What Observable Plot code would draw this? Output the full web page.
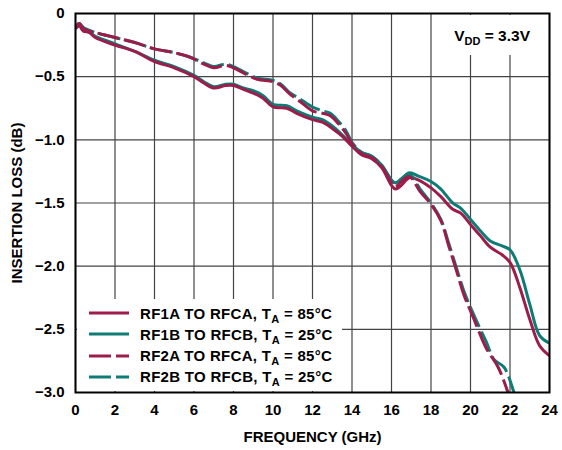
<!DOCTYPE html>
<html>
<head>
<meta charset="utf-8">
<script src="https://cdn.jsdelivr.net/npm/d3@7"></script>
<script src="https://cdn.jsdelivr.net/npm/@observablehq/plot@0.6"></script>
<style>
  html, body { margin: 0; padding: 0; background: #fff; }
  #wrap { position: relative; width: 562px; height: 450px; font-family: "Liberation Sans", Arial, sans-serif; font-weight: bold; color: #000; }
  #legend { position: absolute; left: 77px; top: 299px; width: 265px; height: 92px; background: #fff; }
  .row { position: absolute; left: 0; height: 20px; display: flex; align-items: center; font-size: 15px; white-space: nowrap; letter-spacing: 0.3px; }
  .row svg { margin-left: 12px; margin-right: 11px; }
  sub { font-size: 11px; vertical-align: -4px; line-height: 0; }
  #vdd { position: absolute; left: 445px; top: 15px; width: 102px; height: 40px; background: #fff; font-size: 15.5px; }
  #vdd span.t { position: absolute; right: 17px; top: 12px; white-space: nowrap; }
</style>
</head>
<body>
<div id="wrap"></div>
<script>
// ---- data ----
const xTicks = [0, 2, 4, 6, 8, 10, 12, 14, 16, 18, 20, 22, 24];
const yTicks = [0, -0.5, -1.0, -1.5, -2.0, -2.5, -3.0];

const seriesNames = ["RF1A TO RFCA", "RF1B TO RFCB", "RF2A TO RFCA", "RF2B TO RFCB"];
const seriesTemps = ["85°C", "25°C", "85°C", "25°C"];

// RF1A TO RFCA, TA = 85°C (solid, maroon)
const rf1aFreq = [0, 0.2, 0.4, 0.7, 1, 2, 3, 4, 5, 6, 6.5, 7, 7.6, 8, 8.5, 9, 9.5, 10, 10.7, 11.2, 12, 12.5, 13, 13.5, 14, 14.5, 15, 15.5, 16, 16.2, 16.5, 16.9, 17.4, 18, 18.5, 19.1, 19.5, 20, 20.5, 21, 21.6, 22, 22.5, 23, 23.5, 24];
const rf1aLoss = [-0.12, -0.10, -0.14, -0.15, -0.19, -0.25, -0.30, -0.38, -0.43, -0.50, -0.55, -0.59, -0.57, -0.57, -0.60, -0.63, -0.67, -0.74, -0.75, -0.79, -0.84, -0.86, -0.91, -0.97, -1.05, -1.12, -1.15, -1.22, -1.36, -1.39, -1.36, -1.30, -1.32, -1.38, -1.45, -1.55, -1.58, -1.67, -1.76, -1.85, -1.91, -1.97, -2.17, -2.42, -2.63, -2.71];

// RF1B TO RFCB, TA = 25°C (solid, teal)
const rf1bFreq = [0, 0.2, 0.4, 0.7, 1, 2, 3, 4, 5, 6, 6.5, 7, 7.6, 8, 8.5, 9, 9.5, 10, 10.7, 11.2, 12, 12.5, 13, 13.5, 14, 14.5, 15, 15.5, 16, 16.2, 16.5, 16.9, 17.4, 18, 18.5, 19.1, 19.5, 20, 20.5, 21, 21.6, 22, 22.5, 23, 23.5, 24];
const rf1bLoss = [-0.11, -0.10, -0.13, -0.15, -0.18, -0.24, -0.30, -0.37, -0.42, -0.49, -0.54, -0.58, -0.56, -0.56, -0.59, -0.61, -0.65, -0.72, -0.73, -0.77, -0.82, -0.84, -0.89, -0.96, -1.04, -1.10, -1.13, -1.20, -1.32, -1.34, -1.31, -1.26, -1.29, -1.33, -1.39, -1.50, -1.54, -1.63, -1.72, -1.80, -1.84, -1.87, -2.03, -2.30, -2.55, -2.61];

// RF2A TO RFCA, TA = 85°C (dashed, maroon)
const rf2aFreq = [0, 0.2, 0.4, 1, 2, 3, 4, 5, 5.7, 6.5, 7, 7.6, 8, 8.5, 9.2, 10, 10.4, 10.8, 11.4, 12, 12.5, 12.9, 13.3, 13.7, 14, 14.5, 15, 15.5, 16, 16.2, 16.5, 16.9, 17.45, 18, 18.5, 18.9, 19.3, 19.65, 20.15, 20.8, 21.4, 21.9, 22.0];
const rf2aLoss = [-0.11, -0.08, -0.12, -0.15, -0.19, -0.23, -0.28, -0.31, -0.34, -0.40, -0.43, -0.41, -0.43, -0.47, -0.52, -0.54, -0.57, -0.63, -0.70, -0.77, -0.79, -0.81, -0.87, -0.95, -1.03, -1.11, -1.14, -1.21, -1.34, -1.37, -1.33, -1.29, -1.41, -1.51, -1.64, -1.84, -2.04, -2.22, -2.41, -2.65, -2.80, -3.00, -3.05];

// RF2B TO RFCB, TA = 25°C (dashed, teal)
const rf2bFreq = [0, 0.2, 0.4, 1, 2, 3, 4, 5, 5.7, 6.5, 7, 7.6, 8, 8.5, 9.2, 10, 10.4, 10.8, 11.4, 12, 12.5, 12.9, 13.3, 13.7, 14, 14.5, 15, 15.5, 16, 16.2, 16.5, 16.9, 17.45, 18, 18.5, 18.9, 19.3, 19.65, 20.15, 20.8, 21.2, 21.7, 22.2, 22.3];
const rf2bLoss = [-0.10, -0.08, -0.11, -0.15, -0.19, -0.23, -0.28, -0.31, -0.34, -0.39, -0.42, -0.40, -0.42, -0.46, -0.51, -0.53, -0.56, -0.62, -0.68, -0.74, -0.77, -0.79, -0.85, -0.93, -1.02, -1.10, -1.13, -1.20, -1.32, -1.35, -1.31, -1.27, -1.39, -1.50, -1.63, -1.82, -2.02, -2.19, -2.38, -2.60, -2.74, -2.80, -3.00, -3.05];

const MAROON = "#9c1c4a";
const TEAL = "#0e7c76";

const toRows = (fs, ls) => fs.map((f, i) => ({f, v: ls[i]}));
const rf1a = toRows(rf1aFreq, rf1aLoss);
const rf1b = toRows(rf1bFreq, rf1bLoss);
const rf2a = toRows(rf2aFreq, rf2aLoss);
const rf2b = toRows(rf2bFreq, rf2bLoss);

const yFmt = d => d === 0 ? "0" : "\u2212" + Math.abs(d).toFixed(1);

const lineOpts = (stroke, dashed) => ({
  x: "f", y: "v", stroke, strokeWidth: 3, curve: "catmull-rom", clip: true,
  strokeDasharray: dashed ? "22,5" : null, strokeLinecap: "butt"
});

const chart = Plot.plot({
  width: 562,
  height: 450,
  marginLeft: 75,
  marginRight: 13,
  marginTop: 13,
  marginBottom: 58,
  style: { fontFamily: "'Liberation Sans', Arial, sans-serif", fontWeight: "bold", fontSize: "15px", color: "#000", background: "#fff", overflow: "visible" },
  x: { domain: [0, 24] },
  y: { domain: [-3, 0] },
  marks: [
    Plot.gridX(xTicks, { stroke: "#444", strokeOpacity: 1, strokeWidth: 1.2 }),
    Plot.gridY(yTicks, { stroke: "#444", strokeOpacity: 1, strokeWidth: 1.2 }),
    Plot.line(rf1b, lineOpts(TEAL, false)),
    Plot.line(rf1a, lineOpts(MAROON, false)),
    Plot.line(rf2b, lineOpts(TEAL, true)),
    Plot.line(rf2a, lineOpts(MAROON, true)),
    Plot.frame({ stroke: "#000", strokeWidth: 2 }),
    Plot.axisX(xTicks, { tickSize: 0, tickPadding: 12, fontSize: 15, tickFormat: d => String(d),
      label: "FREQUENCY (GHz)", labelAnchor: "center", labelOffset: 49, labelArrow: "none" }),
    Plot.axisY(yTicks, { tickSize: 0, tickPadding: 11, fontSize: 15, tickFormat: yFmt,
      label: "INSERTION LOSS (dB)", labelAnchor: "center", labelOffset: 64, labelArrow: "none" })
  ]
});

const wrap = document.getElementById("wrap");
wrap.appendChild(chart);

// legend overlay
const legend = document.createElement("div");
legend.id = "legend";
const colors = [MAROON, TEAL, MAROON, TEAL];
const dashed = [false, false, true, true];
seriesNames.forEach((name, i) => {
  const row = document.createElement("div");
  row.className = "row";
  row.style.top = (4 + i * 21.3) + "px";
  const dash = dashed[i] ? 'stroke-dasharray="22,5"' : "";
  row.innerHTML = `<svg width="40" height="6"><line x1="0" x2="40" y1="3" y2="3" stroke="${colors[i]}" stroke-width="3" ${dash}/></svg>` +
    `<span>${name}, T<sub>A</sub> = ${seriesTemps[i]}</span>`;
  legend.appendChild(row);
});
wrap.appendChild(legend);

// VDD annotation
const vdd = document.createElement("div");
vdd.id = "vdd";
vdd.innerHTML = `<span class="t">V<sub>DD</sub> = 3.3V</span>`;
wrap.appendChild(vdd);
</script>
</body>
</html>
